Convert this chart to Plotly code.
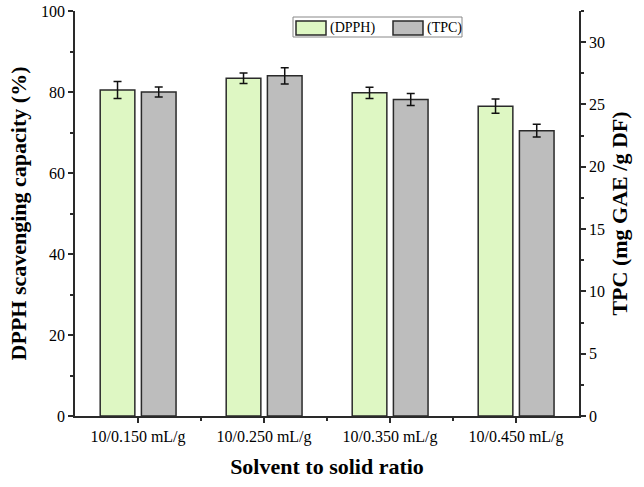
import plotly.graph_objects as go

categories = ["10/0.150 mL/g", "10/0.250 mL/g", "10/0.350 mL/g", "10/0.450 mL/g"]
dpph = [80.5, 83.4, 79.8, 76.5]
dpph_err = [2.1, 1.3, 1.4, 1.75]
tpc = [26.0, 27.3, 25.4, 22.9]
tpc_err = [0.4, 0.65, 0.48, 0.52]
series_names = ["(DPPH)", "(TPC)"]
series_colors = ["#def7c3", "#bdbdbd"]

xpos = list(range(len(categories)))
FONT = "Liberation Serif"
EDGE = "#2a2a2a"

# plot area in pixels (for legend placement)
L, R, T, B = 75, 579, 11, 416
def px(x):
    return (x - L) / (R - L)
def py(y):
    return (B - y) / (B - T)

fig = go.Figure()
fig.add_trace(go.Bar(
    x=xpos, y=dpph, name=series_names[0], yaxis="y",
    offset=-0.30, width=0.275,
    marker=dict(color=series_colors[0], line=dict(color=EDGE, width=1.5)),
    error_y=dict(type="data", array=dpph_err, color="#111", thickness=1.5, width=4),
))
fig.add_trace(go.Bar(
    x=xpos, y=tpc, name=series_names[1], yaxis="y2",
    offset=0.027, width=0.275,
    marker=dict(color=series_colors[1], line=dict(color=EDGE, width=1.5)),
    error_y=dict(type="data", array=tpc_err, color="#111", thickness=1.5, width=4),
))

# custom legend (wide swatches like the original)
shapes = [
    dict(type="rect", xref="paper", yref="paper", x0=px(293), x1=px(462), y0=py(37), y1=py(17),
         line=dict(color="#888", width=1), fillcolor="white", layer="above"),
    dict(type="rect", xref="paper", yref="paper", x0=px(296), x1=px(326), y0=py(35), y1=py(21),
         line=dict(color=EDGE, width=1.5), fillcolor=series_colors[0], layer="above"),
    dict(type="rect", xref="paper", yref="paper", x0=px(393), x1=px(423), y0=py(35), y1=py(21),
         line=dict(color=EDGE, width=1.5), fillcolor=series_colors[1], layer="above"),
]
annotations = [
    dict(xref="paper", yref="paper", x=px(328), y=py(28), text=series_names[0], showarrow=False,
         xanchor="left", yanchor="middle", font=dict(family=FONT, size=14, color="black")),
    dict(xref="paper", yref="paper", x=px(425), y=py(28), text=series_names[1], showarrow=False,
         xanchor="left", yanchor="middle", font=dict(family=FONT, size=14, color="black")),
]

fig.update_layout(
    width=644, height=487,
    margin=dict(l=L, r=644 - R, t=T, b=487 - B),
    paper_bgcolor="white", plot_bgcolor="white",
    font=dict(family=FONT, color="black", size=16),
    barmode="overlay",
    showlegend=False,
    shapes=shapes, annotations=annotations,
    xaxis=dict(
        range=[-0.5, 3.5], tickvals=xpos, ticktext=categories,
        showline=True, linecolor=EDGE, linewidth=1.5,
        ticks="outside", ticklen=5, tickwidth=1.5, tickcolor=EDGE,
        minor=dict(tickvals=[0.5, 1.5, 2.5], ticks="outside", ticklen=3, tickwidth=1.5, tickcolor=EDGE),
        showgrid=False, zeroline=False, automargin=False,
        tickfont=dict(size=16),
        title=dict(text="<b>Solvent to solid ratio</b>", font=dict(size=22), standoff=14),
    ),
    yaxis=dict(
        range=[0, 100], dtick=20,
        showline=True, linecolor=EDGE, linewidth=1.5,
        ticks="outside", ticklen=5, tickwidth=1.5, tickcolor=EDGE,
        minor=dict(dtick=10, ticks="outside", ticklen=3, tickwidth=1.5, tickcolor=EDGE),
        showgrid=False, zeroline=False, automargin=False,
        tickfont=dict(size=16),
        title=dict(text="<b>DPPH scavenging capacity (%)</b>", font=dict(size=22), standoff=8),
    ),
    yaxis2=dict(
        range=[0, 32.5], dtick=5, overlaying="y", side="right",
        showline=True, linecolor=EDGE, linewidth=1.5,
        ticks="outside", ticklen=5, tickwidth=1.5, tickcolor=EDGE,
        minor=dict(dtick=2.5, ticks="outside", ticklen=3, tickwidth=1.5, tickcolor=EDGE),
        showgrid=False, zeroline=False, automargin=False,
        tickfont=dict(size=16),
        title=dict(text="<b>TPC (mg GAE /g DF)</b>", font=dict(size=22), standoff=8),
    ),
)

fig.write_html("out.html", config={"displayModeBar": False},
               post_script="document.body.style.margin='0';")
